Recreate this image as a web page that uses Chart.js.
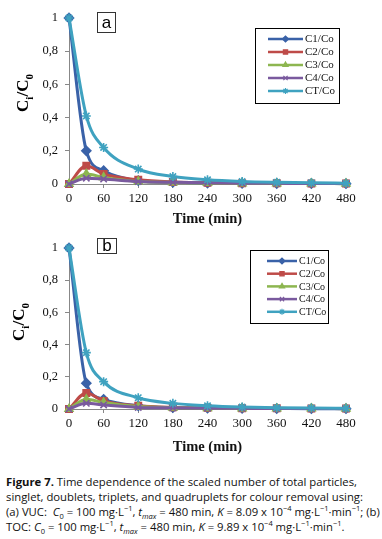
<!DOCTYPE html>
<html>
<head>
<meta charset="utf-8">
<script src="https://cdn.jsdelivr.net/npm/chart.js@4/dist/chart.umd.min.js"></script>
<style>
  body { margin: 0; background: #fff; width: 382px; height: 539px; overflow: hidden; position: relative; }
  .panel { position: absolute; left: 0; width: 382px; }
  .ylab { position: absolute; font: bold 17px "Liberation Serif", serif; transform: translate(-50%, -50%) rotate(-90deg); white-space: nowrap; }
  .ylab sub { font-size: 11px; }
  .tag { position: absolute; border: 1px solid #333; font: 17px "Liberation Sans", sans-serif; text-align: center; box-sizing: border-box; }
  .caption { position: absolute; left: 6px; top: 474px; font: 11.3px "Open Sans", sans-serif; line-height: 15px; color: #111; white-space: nowrap; }
  .caption sub, .caption sup { font-size: 7.5px; line-height: 0; }
</style>
</head>
<body>
<div class="panel" style="top:0;height:232px"><canvas id="chartA" width="382" height="232"></canvas></div>
<div class="panel" style="top:232px;height:228px"><canvas id="chartB" width="382" height="228"></canvas></div>
<div class="ylab" style="left:24px;top:93px">C<sub>i</sub>/C<sub>0</sub></div>
<div class="ylab" style="left:20px;top:322px">C<sub>i</sub>/C<sub>0</sub></div>
<div class="tag" style="left:97px;top:12px;width:19px;height:21px;line-height:19px">a</div>
<div class="tag" style="left:97px;top:238px;width:20px;height:16px;line-height:14px">b</div>
<div class="caption"><b>Figure 7.</b> Time dependence of the scaled number of total particles,<br>singlet, doublets, triplets, and quadruplets for colour removal using:<br>(a) VUC: &nbsp;<i>C</i><sub>0</sub> = 100 mg·L<sup>−1</sup>, <i>t</i><sub><i>max</i></sub> = 480 min, <i>K</i> = 8.09 x 10<sup>−4</sup> mg·L<sup>−1</sup>·min<sup>−1</sup>; (b)<br>TOC: <i>C</i><sub>0</sub> = 100 mg·L<sup>−1</sup>, <i>t</i><sub><i>max</i></sub> = 480 min, <i>K</i> = 9.89 x 10<sup>−4</sup> mg·L<sup>−1</sup>·min<sup>−1</sup>.</div>

<script>
// time points (min)
const times = [0, 30, 60, 120, 180, 240, 300, 360, 420, 480];
const seriesNames = ['C1/Co', 'C2/Co', 'C3/Co', 'C4/Co', 'CT/Co'];
const seriesColors = ['#3A62A8', '#BE4B48', '#8DB650', '#7A5A9E', '#3FA2C0'];
const seriesMarkers = ['rectRot', 'rect', 'triangle', 'crossRot', 'star'];

// panel a (VUC)
const a_C1 = [1, 0.20, 0.08, 0.02, 0.01, 0.006, 0.004, 0.003, 0.003, 0.002];
const a_C2 = [0, 0.11, 0.06, 0.025, 0.012, 0.008, 0.005, 0.004, 0.003, 0.003];
const a_C3 = [0, 0.06, 0.04, 0.015, 0.01, 0.006, 0.004, 0.003, 0.003, 0.002];
const a_C4 = [0, 0.035, 0.03, 0.015, 0.01, 0.007, 0.005, 0.004, 0.003, 0.003];
const a_CT = [1, 0.41, 0.22, 0.09, 0.045, 0.025, 0.015, 0.01, 0.007, 0.005];

// panel b (TOC)
const b_C1 = [1, 0.16, 0.06, 0.02, 0.008, 0.005, 0.004, 0.003, 0.002, 0.002];
const b_C2 = [0, 0.10, 0.05, 0.02, 0.01, 0.007, 0.005, 0.004, 0.003, 0.003];
const b_C3 = [0, 0.06, 0.04, 0.015, 0.008, 0.005, 0.004, 0.003, 0.003, 0.002];
const b_C4 = [0, 0.035, 0.025, 0.01, 0.007, 0.005, 0.004, 0.003, 0.003, 0.002];
const b_CT = [1, 0.35, 0.17, 0.07, 0.035, 0.02, 0.012, 0.008, 0.006, 0.005];

const yTicks = [0, 0.2, 0.4, 0.6, 0.8, 1];

// boxed legend drawn inside the plot, one row per dataset
const boxLegend = {
  id: 'boxLegend',
  afterDraw(chart, args, o) {
    const ctx = chart.ctx;
    ctx.save();
    ctx.strokeStyle = '#000';
    ctx.lineWidth = 1;
    ctx.strokeRect(o.x + 0.5, o.y + 0.5, o.w, o.h);
    chart.data.datasets.forEach((ds, i) => {
      const y = o.first + i * o.step;
      ctx.strokeStyle = ds.borderColor;
      ctx.lineWidth = 2.5;
      ctx.beginPath();
      ctx.moveTo(o.x0, y);
      ctx.lineTo(o.x1, y);
      ctx.stroke();
      ctx.fillStyle = ds.borderColor;
      ctx.lineWidth = 1.2;
      Chart.helpers.drawPoint(ctx, { pointStyle: ds.pointStyle, radius: 3, rotation: 0, borderWidth: 1.2 }, (o.x0 + o.x1) / 2, y);
      ctx.fillStyle = '#111';
      ctx.font = o.font;
      ctx.textBaseline = 'middle';
      ctx.fillText(ds.label, o.x1 + 2, y + 0.5);
    });
    ctx.restore();
  }
};

function makeChart(id, series, padTop, xHeight, legend) {
  const datasets = series.map((vals, i) => ({
    label: seriesNames[i],
    data: times.map((t, k) => ({ x: t, y: vals[k] })),
    borderColor: seriesColors[i],
    backgroundColor: seriesColors[i],
    borderWidth: 3,
    pointStyle: seriesMarkers[i],
    pointRadius: 4.5,
    pointBorderWidth: 1.6,
    cubicInterpolationMode: 'monotone',
    clip: false,
    order: 4 - i
  }));
  return new Chart(document.getElementById(id), {
    type: 'line',
    data: { datasets },
    options: {
      responsive: false,
      animation: false,
      layout: { padding: { top: padTop, right: 36, left: 0, bottom: 0 } },
      plugins: { legend: { display: false }, tooltip: { enabled: false }, boxLegend: legend },
      scales: {
        x: {
          type: 'linear', min: 0, max: 480,
          afterFit: s => { s.height = xHeight; },
          afterBuildTicks: s => { s.ticks = times.filter(t => t % 60 === 0).map(v => ({ value: v })); },
          ticks: { color: '#111', font: { family: '"Liberation Serif", serif', size: 13 }, padding: 3, maxRotation: 0 },
          grid: { drawOnChartArea: false, color: '#888', tickLength: 4 },
          border: { color: '#888' },
          title: { display: true, text: 'Time (min)', color: '#111', font: { family: '"Liberation Serif", serif', size: 14.5, weight: 'bold' }, padding: { top: 6 } }
        },
        y: {
          min: 0, max: 1,
          afterFit: s => { s.width = 69; },
          afterBuildTicks: s => { s.ticks = yTicks.map(v => ({ value: v })); },
          ticks: { color: '#111', font: { family: '"Liberation Serif", serif', size: 12.5 }, padding: 7,
                   callback: v => String(+v.toFixed(1)).replace('.', ',') },
          grid: { drawOnChartArea: false, color: '#888', tickLength: 4 },
          border: { color: '#888' }
        }
      }
    },
    plugins: [boxLegend]
  });
}

makeChart('chartA', [a_C1, a_C2, a_C3, a_C4, a_CT], 18, 48,
  { x: 255, y: 28, w: 84, h: 75, first: 39, step: 13, x0: 268, x1: 303, font: '11px "Liberation Serif", serif' });
makeChart('chartB', [b_C1, b_C2, b_C3, b_C4, b_CT], 16, 51,
  { x: 250, y: 18, w: 78, h: 73, first: 29, step: 12.7, x0: 267, x1: 297, font: '10px "Liberation Serif", serif' });
</script>
</body>
</html>
